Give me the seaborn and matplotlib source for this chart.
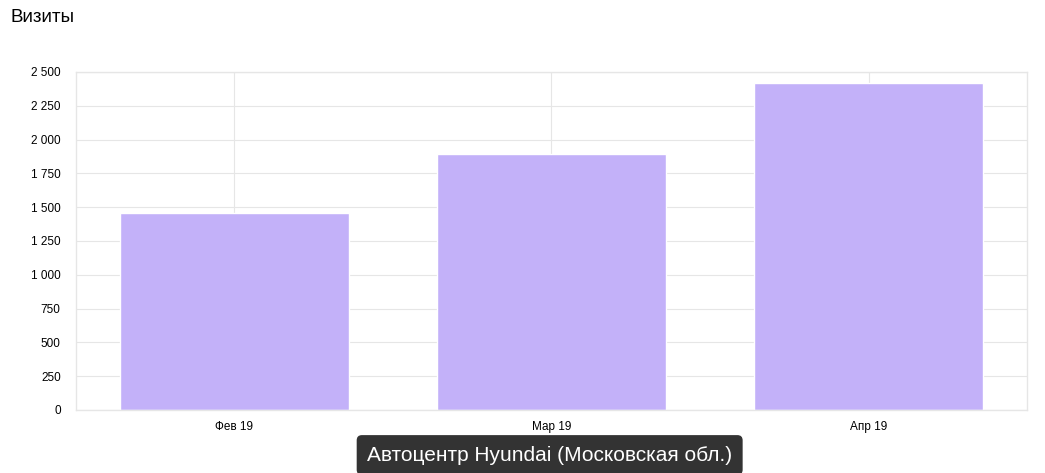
import pandas as pd
import seaborn as sns
import matplotlib.pyplot as plt
from matplotlib.ticker import FuncFormatter

months = ['Фев 19', 'Мар 19', 'Апр 19']
visits = [1457, 1895, 2420]
y_ticks = [0, 250, 500, 750, 1000, 1250, 1500, 1750, 2000, 2250, 2500]

df = pd.DataFrame({'month': months, 'visits': visits})

sns.set_style('white')
plt.rcParams['font.family'] = ['Liberation Sans', 'DejaVu Sans']

fig = plt.figure(figsize=(10.45, 4.73), dpi=100)
ax = fig.add_axes([0.0727, 0.1332, 0.9101, 0.7146])

sns.barplot(data=df, x='month', y='visits', color='#c3b1f9', saturation=1,
            width=0.72, ax=ax, zorder=2)

ax.set_xlim(-0.5, 2.5)
ax.set_ylim(0, 2500)
ax.set_yticks(y_ticks)
ax.yaxis.set_major_formatter(FuncFormatter(lambda v, p: f'{int(v):,}'.replace(',', ' ')))
ax.grid(True, color='#e6e6e6', linewidth=0.8, zorder=0)
ax.set_axisbelow(True)
for s in ax.spines.values():
    s.set_color('#e6e6e6')
    s.set_linewidth(1)
ax.tick_params(axis='y', length=0, labelsize=8.5, colors='#000000', pad=11)
ax.tick_params(axis='x', length=0, labelsize=8.5, colors='#000000', pad=8)
ax.set_xlabel('')
ax.set_ylabel('')

fig.text(0.0096, 0.962, 'Визиты', fontsize=13.5, color='#000000', va='center', ha='left')
fig.text(0.526, 0.038, 'Автоцентр Hyundai (Московская обл.)', fontsize=15, color='white',
         ha='center', va='center',
         bbox=dict(boxstyle='round,pad=0.5,rounding_size=0.25', fc='#333333', ec='none'))

fig.savefig('out.png', dpi=100)
